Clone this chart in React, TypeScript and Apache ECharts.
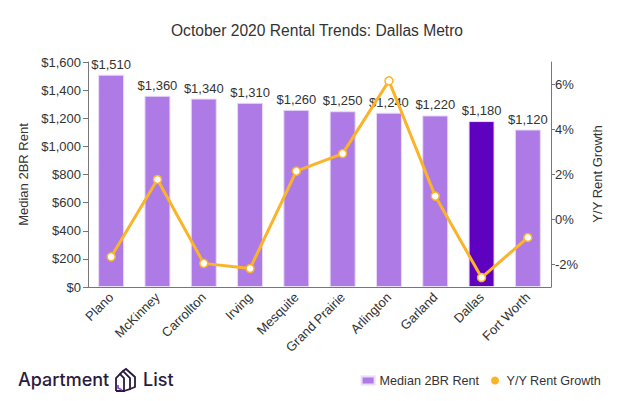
import React, { useEffect, useRef } from "react";
import * as echarts from "echarts";

const categories = ["Plano", "McKinney", "Carrollton", "Irving", "Mesquite", "Grand Prairie", "Arlington", "Garland", "Dallas", "Fort Worth"];
const medianRent = [1510, 1360, 1340, 1310, 1260, 1250, 1240, 1220, 1180, 1120];
const rentGrowth = [-1.66, 1.78, -1.95, -2.18, 2.15, 2.93, 6.16, 1.04, -2.58, -0.8];
const highlightCity = "Dallas";
const rentTicks = [0, 200, 400, 600, 800, 1000, 1200, 1400, 1600];
const growthTicks = [-2, 0, 2, 4, 6];

const PURPLE = "#ae7ae6";
const DARK_PURPLE = "#5e02bf";
const ORANGE = "#fbb427";
const FONT = "'Liberation Sans', Arial, sans-serif";

export default function App() {
  const ref = useRef<HTMLDivElement>(null);
  useEffect(() => {
    document.body.style.margin = "0";
    if (!ref.current) return;
    const chart = echarts.init(ref.current, null, { renderer: "svg" });
    const option: any = {
      animation: false,
      textStyle: { fontFamily: FONT },
      title: {
        text: "October 2020 Rental Trends: Dallas Metro",
        left: "center",
        top: 17,
        textStyle: { fontFamily: FONT, fontSize: 15.6, fontWeight: "normal", color: "#333" },
      },
      grid: { left: 88, right: 83, top: 62, bottom: 114 },
      legend: {
        right: 28,
        top: 369,
        itemGap: 12,
        itemWidth: 13,
        itemHeight: 8,
        textStyle: { fontFamily: FONT, fontSize: 12.6, color: "#333" },
        data: [
          { name: "Median 2BR Rent", icon: "rect", itemStyle: { color: PURPLE } },
          { name: "Y/Y Rent Growth", icon: "circle", itemStyle: { color: ORANGE, borderWidth: 0 } },
        ],
      },
      xAxis: {
        type: "category",
        data: categories,
        axisLine: { lineStyle: { color: "#777" } },
        axisTick: { alignWithLabel: true, lineStyle: { color: "#777" } },
        axisLabel: { rotate: 45, fontFamily: FONT, fontSize: 13, color: "#333", margin: 8 },
      },
      yAxis: [
        {
          type: "value",
          min: 0,
          max: 1600,
          interval: 200,
          name: "Median 2BR Rent",
          nameLocation: "middle",
          nameGap: 44,
          nameTextStyle: { fontFamily: FONT, fontSize: 13, color: "#333" },
          axisLine: { show: true, lineStyle: { color: "#777" } },
          axisTick: { show: true, length: 5, lineStyle: { color: "#777" }, customValues: rentTicks },
          splitLine: { show: false },
          axisLabel: {
            fontFamily: FONT,
            fontSize: 13,
            color: "#333",
            margin: 7,
            customValues: rentTicks,
            formatter: (v: number) => "$" + v.toLocaleString("en-US"),
          },
        },
        {
          type: "value",
          min: -3,
          max: 7,
          position: "right",
          axisLine: { show: true, lineStyle: { color: "#777" } },
          axisTick: { show: true, length: 4, lineStyle: { color: "#777" }, customValues: growthTicks },
          splitLine: { show: false },
          axisLabel: {
            fontFamily: FONT,
            fontSize: 13,
            color: "#333",
            margin: 4,
            customValues: growthTicks,
            formatter: (v: number) => v + "%",
          },
        },
      ],
      series: [
        {
          name: "Median 2BR Rent",
          type: "bar",
          barWidth: 26,
          data: medianRent.map((v, i) => ({
            value: v,
            itemStyle: { color: categories[i] === highlightCity ? DARK_PURPLE : PURPLE },
          })),
          itemStyle: { borderColor: "#e8dcf7", borderWidth: 1 },
          label: {
            show: true,
            position: "top",
            distance: 4,
            fontFamily: FONT,
            fontSize: 13,
            color: "#333",
            formatter: (p: any) => "$" + Number(p.value).toLocaleString("en-US"),
          },
        },
        {
          name: "Y/Y Rent Growth",
          type: "line",
          yAxisIndex: 1,
          data: rentGrowth,
          symbol: "circle",
          symbolSize: 8,
          z: 5,
          lineStyle: { color: ORANGE, width: 3 },
          itemStyle: { color: "#fff", borderColor: ORANGE, borderWidth: 1.5 },
        },
      ],
      graphic: [
        {
          type: "text",
          x: 597,
          y: 174,
          rotation: Math.PI / 2,
          style: {
            text: "Y/Y Rent Growth",
            fontFamily: FONT,
            fontSize: 13,
            fill: "#333",
            align: "center",
            verticalAlign: "middle",
          },
        },
        {
          type: "text",
          left: 18,
          top: 370,
          style: { text: "Apartment", fontFamily: "Inter, Lato, sans-serif", fontSize: 18, fontWeight: 500, fill: "#2a1a3e" },
        },
        {
          type: "polyline",
          shape: { points: [[116, 391], [116, 378], [120, 374], [124, 378], [124, 391], [116, 391]] },
          style: { stroke: "#2a1a3e", lineWidth: 1.8, fill: "none" },
        },
        {
          type: "polyline",
          shape: { points: [[120, 374], [123, 371], [130, 378], [130, 389], [124, 391]] },
          style: { stroke: "#2a1a3e", lineWidth: 1.8, fill: "none" },
        },
        {
          type: "polyline",
          shape: { points: [[123, 371], [126, 369], [135, 377], [135, 387], [130, 389]] },
          style: { stroke: "#2a1a3e", lineWidth: 1.8, fill: "none" },
        },
        {
          type: "polyline",
          shape: { points: [[118, 385], [118, 388], [122, 390]] },
          style: { stroke: "#8a4de0", lineWidth: 1.8, fill: "none" },
        },
        {
          type: "text",
          left: 143,
          top: 370,
          style: { text: "List", fontFamily: "Inter, Lato, sans-serif", fontSize: 18, fontWeight: 500, fill: "#2a1a3e" },
        },
      ],
    };
    chart.setOption(option);
    return () => chart.dispose();
  }, []);
  return <div ref={ref} style={{ width: 634, height: 401 }} />;
}
